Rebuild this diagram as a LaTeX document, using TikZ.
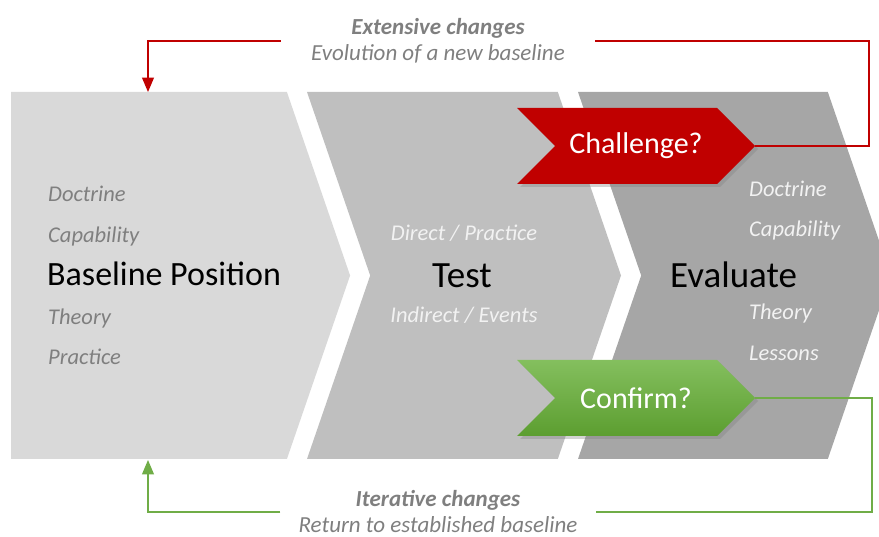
\documentclass[tikz,border=0pt]{standalone}
\usepackage{fontspec}
\setmainfont{Carlito}
\usetikzlibrary{shapes.symbols, arrows, shadows}

\definecolor{basegray}{HTML}{D9D9D9}
\definecolor{testgray}{HTML}{BFBFBF}
\definecolor{evalgray}{HTML}{A6A6A6}
\definecolor{notegray}{HTML}{7F7F7F}
\definecolor{itemwhite}{HTML}{F2F2F2}
\definecolor{chalred}{HTML}{C00000}
\definecolor{conftop}{HTML}{84BF5E}
\definecolor{confbottom}{HTML}{5C9E30}
\definecolor{confline}{HTML}{70AD47}

\tikzstyle{chevron} = [signal, 
signal to=east, 
signal pointer angle=142, 
minimum height=367pt, 
inner sep=0pt, outer sep=0pt]
\tikzstyle{decide} = [signal, 
signal from=west, signal to=east, 
signal pointer angle=90, 
minimum width=238pt, 
minimum height=76pt, 
inner sep=0pt, outer sep=0pt, 
text=white, 
font=\fontsize{30}{32}\selectfont, 
drop shadow={shadow xshift=3pt, shadow yshift=-3pt, opacity=0.35}]
\tikzstyle{stagetitle} = [font=\fontsize{37}{39}\selectfont, 
anchor=base west, inner sep=0pt]
\tikzstyle{stageitem} = [font=\fontsize{22.5}{25}\selectfont\itshape, 
anchor=base west, inner sep=0pt]
\tikzstyle{loopnote} = [font=\fontsize{23}{26}\selectfont\itshape, 
text=notegray, align=center]
\tikzstyle{feedback} = [line width=2.4pt]
\tikzstyle{arrow} = [feedback, ->, >=triangle 45]

\begin{document}
\begin{tikzpicture}[x=1pt, y=-1pt]

\clip (0,0) rectangle (879,537);

% the three stages (the first one has a flat back)
\node (base) [chevron, fill=basegray, minimum width=339pt] at (149,275.5) {};
\node (test) [chevron, signal from=west, fill=testgray, minimum width=314pt] at (464,275.5) {};
\node (eval) [chevron, signal from=west, fill=evalgray, minimum width=313pt] at (734.5,275.5) {};

% baseline position
\node (doc1) [stageitem, text=notegray] at (48,202) {Doctrine};
\node (cap1) [stageitem, text=notegray] at (48,243) {Capability};
\node (pos) [stagetitle, font=\fontsize{34}{36}\selectfont] at (47,286) {Baseline Position};
\node (the1) [stageitem, text=notegray] at (48,325) {Theory};
\node (pra1) [stageitem, text=notegray] at (48,365) {Practice};

% test
\node (dir) [stageitem, text=itemwhite, anchor=base] at (464,241) {Direct / Practice};
\node (tst) [stagetitle, anchor=base] at (462,288) {Test};
\node (ind) [stageitem, text=itemwhite, anchor=base] at (464,323) {Indirect / Events};

% evaluate
\node (doc3) [stageitem, text=itemwhite] at (749,197) {Doctrine};
\node (cap3) [stageitem, text=itemwhite] at (749,237) {Capability};
\node (evl) [stagetitle] at (670,288) {Evaluate};
\node (the3) [stageitem, text=itemwhite] at (749,320) {Theory};
\node (les3) [stageitem, text=itemwhite] at (749,361) {Lessons};

% decisions
\node (chal) [decide, fill=chalred] at (636,146) {Challenge?};
\node (conf) [decide, top color=conftop, bottom color=confbottom] at (636,398) {Confirm?};

% feedback loops
\node (extnote) [loopnote, inner xsep=30pt] at (438,41) {\textbf{Extensive changes}\\Evolution of a new baseline};
\node (itnote) [loopnote, inner xsep=18pt] at (438,512) {\textbf{Iterative changes}\\Return to established baseline};
\coordinate (basetop) at (148,92);
\coordinate (basebot) at (148,460);

\draw [feedback, color=chalred] (chal.east) --++ (114,0) |- (extnote.east);
\draw [arrow, color=chalred] (extnote.west) -| (basetop);
\draw [feedback, color=confline] (conf.east) --++ (117,0) |- (itnote.east);
\draw [arrow, color=confline] (itnote.west) -| (basebot);

\end{tikzpicture}
\end{document}
